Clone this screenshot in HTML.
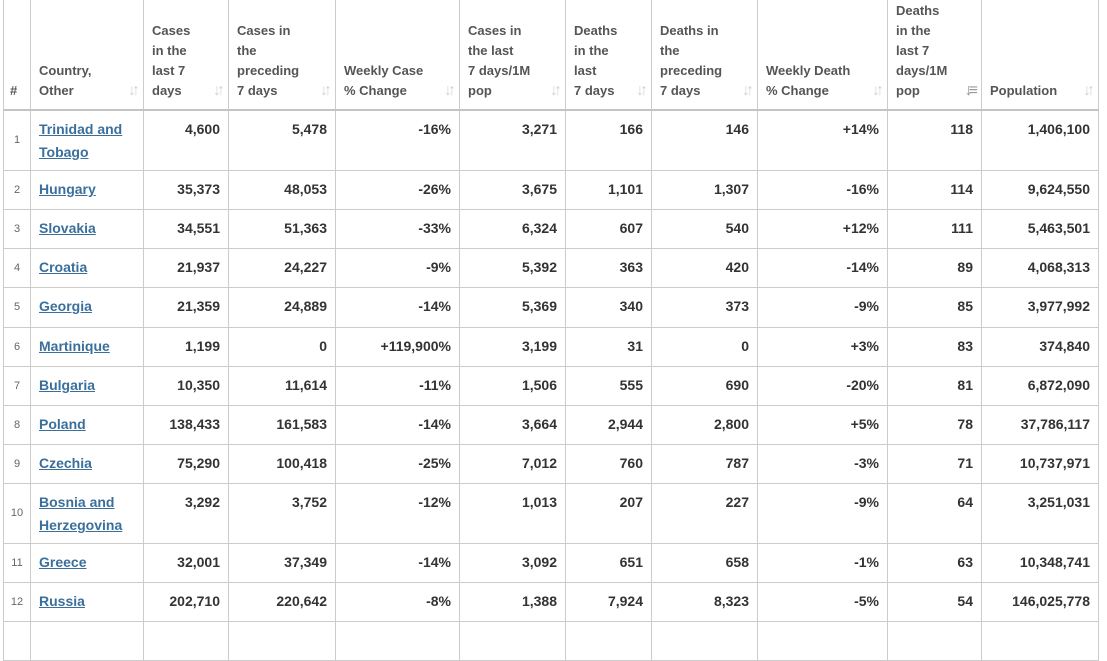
<!DOCTYPE html>
<html><head><meta charset="utf-8"><style>
body{margin:0;background:#fff;width:1107px;height:628px;overflow:hidden;position:relative;font-family:"Liberation Sans",Arial,sans-serif}
table{position:absolute;left:3px;top:-12px;border-collapse:collapse;table-layout:fixed;width:1095px}
td,th{border:1px solid #ccc;padding:0 8px;box-sizing:border-box}
th{vertical-align:bottom;text-align:left;font-size:13px;line-height:20px;color:#555;font-weight:bold;padding-bottom:8px;position:relative;border-bottom:2px solid #c4c4c4;height:121px}
th .s{position:absolute;right:7px;bottom:8px;color:#d4d4d4;font-size:16px;line-height:20px;letter-spacing:-4px;font-weight:bold}
td{vertical-align:top;font-size:14px;font-weight:bold;color:#333;text-align:right;padding-top:7px;line-height:23px}
td.n{font-size:11px;color:#666;font-weight:normal;text-align:center;vertical-align:middle;padding:0}
td.c{text-align:left}
td.c a{color:#3a6f9c;text-decoration:underline}
tr.r{height:39px}
</style></head><body>
<table>
<colgroup><col style="width:27px"><col style="width:113px"><col style="width:85px"><col style="width:107px"><col style="width:124px"><col style="width:106px"><col style="width:86px"><col style="width:106px"><col style="width:130px"><col style="width:94px"><col style="width:117px"></colgroup>
<tr><th style="padding:0 0 8px 6px">#</th><th>Country,<br>Other<span class="s">↓↑</span></th><th>Cases<br>in the<br>last 7<br>days<span class="s">↓↑</span></th><th>Cases in<br>the<br>preceding<br>7 days<span class="s">↓↑</span></th><th>Weekly Case<br>% Change<span class="s">↓↑</span></th><th>Cases in<br>the last<br>7 days/1M<br>pop<span class="s">↓↑</span></th><th>Deaths<br>in the<br>last<br>7 days<span class="s">↓↑</span></th><th>Deaths in<br>the<br>preceding<br>7 days<span class="s">↓↑</span></th><th>Weekly Death<br>% Change<span class="s">↓↑</span></th><th>Deaths<br>in the<br>last 7<br>days/1M<br>pop<span class="s" style="color:#999">↓≡</span></th><th>Population<span class="s">↓↑</span></th></tr>
<tr style="height:61px"><td class="n">1</td><td class="c"><a>Trinidad and Tobago</a></td><td>4,600</td><td>5,478</td><td>-16%</td><td>3,271</td><td>166</td><td>146</td><td>+14%</td><td>118</td><td>1,406,100</td></tr>
<tr class="r"><td class="n">2</td><td class="c"><a>Hungary</a></td><td>35,373</td><td>48,053</td><td>-26%</td><td>3,675</td><td>1,101</td><td>1,307</td><td>-16%</td><td>114</td><td>9,624,550</td></tr>
<tr class="r"><td class="n">3</td><td class="c"><a>Slovakia</a></td><td>34,551</td><td>51,363</td><td>-33%</td><td>6,324</td><td>607</td><td>540</td><td>+12%</td><td>111</td><td>5,463,501</td></tr>
<tr class="r"><td class="n">4</td><td class="c"><a>Croatia</a></td><td>21,937</td><td>24,227</td><td>-9%</td><td>5,392</td><td>363</td><td>420</td><td>-14%</td><td>89</td><td>4,068,313</td></tr>
<tr style="height:40px"><td class="n">5</td><td class="c"><a>Georgia</a></td><td>21,359</td><td>24,889</td><td>-14%</td><td>5,369</td><td>340</td><td>373</td><td>-9%</td><td>85</td><td>3,977,992</td></tr>
<tr class="r"><td class="n">6</td><td class="c"><a>Martinique</a></td><td>1,199</td><td>0</td><td>+119,900%</td><td>3,199</td><td>31</td><td>0</td><td>+3%</td><td>83</td><td>374,840</td></tr>
<tr class="r"><td class="n">7</td><td class="c"><a>Bulgaria</a></td><td>10,350</td><td>11,614</td><td>-11%</td><td>1,506</td><td>555</td><td>690</td><td>-20%</td><td>81</td><td>6,872,090</td></tr>
<tr class="r"><td class="n">8</td><td class="c"><a>Poland</a></td><td>138,433</td><td>161,583</td><td>-14%</td><td>3,664</td><td>2,944</td><td>2,800</td><td>+5%</td><td>78</td><td>37,786,117</td></tr>
<tr class="r"><td class="n">9</td><td class="c"><a>Czechia</a></td><td>75,290</td><td>100,418</td><td>-25%</td><td>7,012</td><td>760</td><td>787</td><td>-3%</td><td>71</td><td>10,737,971</td></tr>
<tr style="height:60px"><td class="n">10</td><td class="c"><a>Bosnia and Herzegovina</a></td><td>3,292</td><td>3,752</td><td>-12%</td><td>1,013</td><td>207</td><td>227</td><td>-9%</td><td>64</td><td>3,251,031</td></tr>
<tr class="r"><td class="n">11</td><td class="c"><a>Greece</a></td><td>32,001</td><td>37,349</td><td>-14%</td><td>3,092</td><td>651</td><td>658</td><td>-1%</td><td>63</td><td>10,348,741</td></tr>
<tr class="r"><td class="n">12</td><td class="c"><a>Russia</a></td><td>202,710</td><td>220,642</td><td>-8%</td><td>1,388</td><td>7,924</td><td>8,323</td><td>-5%</td><td>54</td><td>146,025,778</td></tr>
<tr class="r"><td class="n"></td><td></td><td></td><td></td><td></td><td></td><td></td><td></td><td></td><td></td><td></td></tr>
</table>
</body></html>
